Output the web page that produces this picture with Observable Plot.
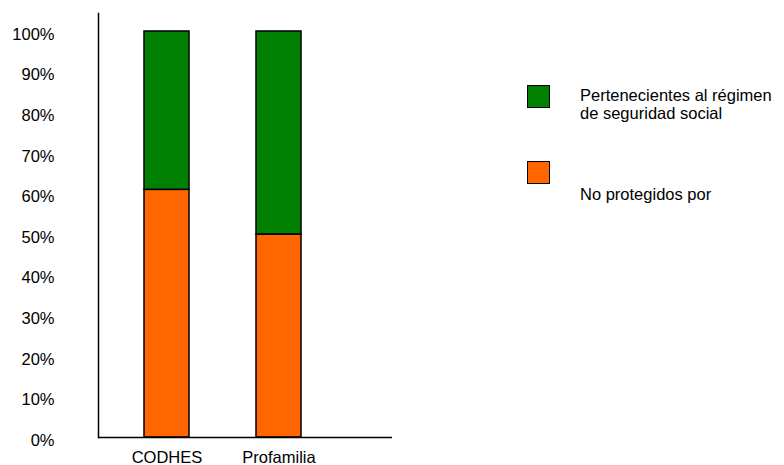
<!DOCTYPE html>
<html>
<head>
<meta charset="utf-8">
<script src="https://cdn.jsdelivr.net/npm/d3@7"></script>
<script src="https://cdn.jsdelivr.net/npm/@observablehq/plot@0.6"></script>
<style>
  html, body { margin: 0; padding: 0; background: #fff; }
  #wrap { position: relative; width: 784px; height: 465px; font-family: "Liberation Sans", Arial, sans-serif; }
  .lg { position: absolute; font-size: 16.5px; line-height: 18.6px; color: #000; white-space: nowrap; }
  .sw { position: absolute; width: 21px; height: 21px; border: 1.5px solid #000; }
</style>
</head>
<body>
<div id="wrap"></div>
<script>
const categories = ["CODHES", "Profamilia"];
const seriesNames = ["No protegidos por", "Pertenecientes al régimen de seguridad social"];
const noProtegidos = [61, 50];
const pertenecientes = [39, 50];
const seriesColors = ["#FF6600", "#008000"];
const yTicks = [0, 10, 20, 30, 40, 50, 60, 70, 80, 90, 100];

const rows = [];
categories.forEach((c, i) => {
  rows.push({cat: c, series: seriesNames[0], value: noProtegidos[i]});
  rows.push({cat: c, series: seriesNames[1], value: pertenecientes[i]});
});

const chart = Plot.plot({
  width: 784,
  height: 465,
  marginLeft: 98,
  marginRight: 392,
  marginTop: 13,
  marginBottom: 28,
  style: {fontFamily: "Liberation Sans, Arial, sans-serif", fontSize: "16.5px", color: "#000", background: "#fff"},
  x: {domain: categories, range: [110, 335], paddingInner: 0.6, paddingOuter: 0.3},
  y: {domain: [0, 104.43]},
  color: {domain: seriesNames, range: seriesColors},
  marks: [
    Plot.barY(rows, Plot.stackY({x: "cat", y: "value", fill: "series", stroke: "#000", strokeWidth: 1.5})),
    Plot.axisY({ticks: yTicks, tickSize: 0, tickPadding: 44, tickFormat: d => d + "%", label: null, dy: 3, fill: "#000"}),
    Plot.axisX({tickSize: 0, tickPadding: 14, label: null, fill: "#000"}),
    Plot.ruleY([0], {stroke: "#000", strokeWidth: 1.5}),
    Plot.frame({anchor: "left", stroke: "#000", strokeWidth: 1.5})
  ]
});

const wrap = document.getElementById("wrap");
wrap.appendChild(chart);

function addLegend(color, swTop, text, textTop) {
  const sw = document.createElement("div");
  sw.className = "sw";
  sw.style.left = "527px";
  sw.style.top = swTop + "px";
  sw.style.background = color;
  wrap.appendChild(sw);
  const t = document.createElement("div");
  t.className = "lg";
  t.style.left = "580px";
  t.style.top = textTop + "px";
  t.innerHTML = text;
  wrap.appendChild(t);
}
addLegend(seriesColors[1], 85, "Pertenecientes al régimen<br>de seguridad social", 85.7);
addLegend(seriesColors[0], 161, "No protegidos por", 184.5);
</script>
</body>
</html>
